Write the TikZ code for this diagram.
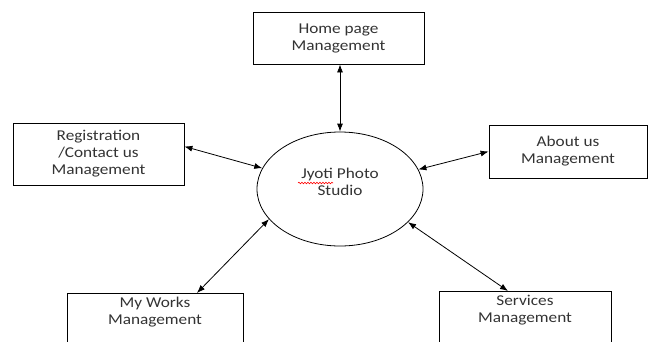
\documentclass[tikz,border=0pt]{standalone}
\usepackage{fontspec}
\setmainfont[FakeStretch=1.15]{Carlito}
\usetikzlibrary{arrows.meta,calc,decorations.pathmorphing,shapes.geometric}

\begin{document}
\begin{tikzpicture}[x=1pt,y=-1pt,>={Latex[length=8pt,width=6pt]},
every node/.style={font=\fontsize{15}{17}\selectfont,align=center,text=black!80},
mybox/.style={draw,rectangle,line width=0.8pt,inner sep=4pt},
myellipse/.style={draw,ellipse,line width=0.8pt,inner sep=0pt},
arrowstyle/.style={<->,line width=0.8pt},
squiggle/.style={red,line width=0.6pt,decorate,decoration={snake,amplitude=0.8pt,segment length=3pt}}]

\useasboundingbox (0,0) rectangle (649,341);
\clip (0,0) rectangle (649,341);

\node[myellipse,minimum width=166pt,minimum height=114pt,text depth=14pt] (studio) at (340,189) {Jyoti Photo\\Studio};
\draw[squiggle] ($(studio.center)+(-42,-6)$) -- ($(studio.center)+(-7,-6)$);

\node[mybox,minimum width=171pt,minimum height=52pt] (home) at (338.5,38) {Home page\\Management};
\node[mybox,minimum width=171pt,minimum height=62pt] (reg) at (98.5,154) {Registration\\/Contact us\\Management};
\node[mybox,minimum width=158pt,minimum height=53pt] (about) at (568,151.5) {About us\\Management};
\node[mybox,anchor=north,minimum width=176pt,text depth=60pt] (works) at (155,293) {My Works\\Management};
\node[mybox,anchor=north,minimum width=172pt,text depth=60pt] (services) at (525,291) {Services\\Management};

\draw[arrowstyle] (home.south -| studio.north) -- (studio.north);
\draw[arrowstyle] (reg.5) -- (studio.165);
\draw[arrowstyle] (about.west) -- (studio.14);
\draw[arrowstyle] ([xshift=42pt]works.north) -- (studio.203);
\draw[arrowstyle] ([xshift=-17pt]services.north) -- (studio.334);
\end{tikzpicture}
\end{document}
